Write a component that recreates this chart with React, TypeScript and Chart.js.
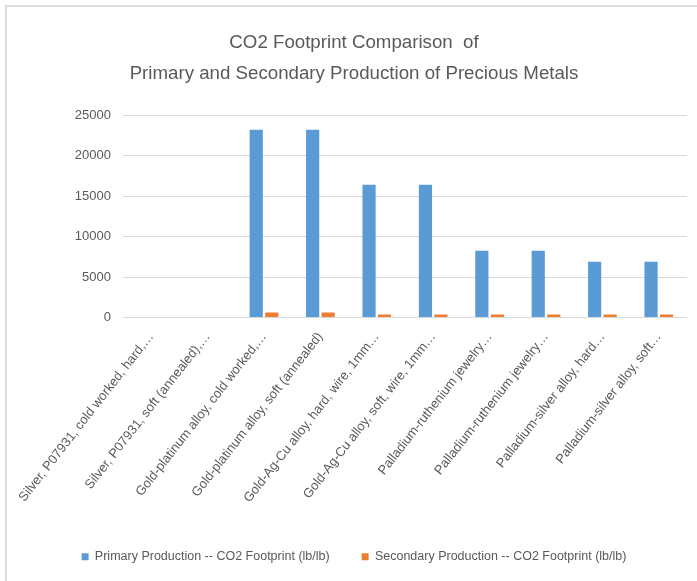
import React, { useEffect, useRef } from "react";
import { Chart, registerables } from "chart.js";

Chart.register(...registerables);

const categories = [
  "Silver, P07931, cold worked, hard,…",
  "Silver, P07931, soft (annealed),…",
  "Gold-platinum alloy, cold worked,…",
  "Gold-platinum alloy, soft (annealed)",
  "Gold-Ag-Cu alloy, hard, wire, 1mm…",
  "Gold-Ag-Cu alloy, soft, wire, 1mm…",
  "Palladium-ruthenium jewelry…",
  "Palladium-ruthenium jewelry…",
  "Palladium-silver alloy, hard…",
  "Palladium-silver alloy, soft…",
];
const primaryValues = [0, 0, 23200, 23200, 16400, 16400, 8250, 8250, 6900, 6900];
const secondaryValues = [0, 0, 620, 620, 380, 380, 370, 370, 370, 370];
const seriesNames = [
  "Primary Production -- CO2 Footprint (lb/lb)",
  "Secondary Production -- CO2 Footprint (lb/lb)",
];
const titleLines = ["CO2 Footprint Comparison  of", "Primary and Secondary Production of Precious Metals"];
const yMax = 25000;
const yStep = 5000;

const FONT = "'Liberation Sans', Arial, sans-serif";

export default function App() {
  const ref = useRef<HTMLCanvasElement | null>(null);
  useEffect(() => {
    if (!ref.current) return;
    const labelsForChart = categories.map((c, i) => c + "\u200b".repeat(i % 2));
    const chart = new Chart(ref.current, {
      type: "bar",
      data: {
        labels: labelsForChart,
        datasets: [
          {
            label: seriesNames[0],
            data: primaryValues,
            backgroundColor: "#5b9bd5",
            categoryPercentage: 0.55,
            barPercentage: 0.85,
          },
          {
            label: seriesNames[1],
            data: secondaryValues,
            backgroundColor: "#ed7d31",
            categoryPercentage: 0.55,
            barPercentage: 0.85,
          },
        ],
      },
      options: {
        animation: false,
        responsive: true,
        maintainAspectRatio: false,
        layout: { padding: { left: 14, right: 10, top: 20, bottom: 8 } },
        plugins: {
          title: {
            display: true,
            text: titleLines,
            color: "#595959",
            font: { family: FONT, size: 18.7, weight: "normal", lineHeight: 1.66 },
            padding: { top: 0, bottom: 26 },
          },
          legend: {
            position: "bottom",
            labels: {
              color: "#595959",
              boxWidth: 7,
              boxHeight: 7,
              padding: 32,
              font: { family: FONT, size: 12.5 },
            },
          },
          tooltip: { enabled: false },
        },
        scales: {
          x: {
            grid: { display: false },
            border: { display: false },
            afterFit: (scale: any) => {
              scale.height = 201;
              scale.paddingLeft = 0;
              scale.paddingRight = 0;
            },
            ticks: {
              color: "#595959",
              minRotation: 52,
              maxRotation: 52,
              autoSkip: false,
              padding: 4,
              font: { family: FONT, size: 13 },
            },
          },
          y: {
            min: 0,
            max: yMax,
            border: { display: false },
            grid: { color: "#d9d9d9", lineWidth: 1, drawTicks: false },
            afterFit: (scale: any) => {
              scale.width = 102;
            },
            ticks: {
              stepSize: yStep,
              color: "#595959",
              padding: 12,
              font: { family: FONT, size: 13 },
              callback: (v: any) => String(v),
            },
          },
        },
      },
    });
    return () => chart.destroy();
  }, []);
  return (
    <div style={{ position: "fixed", left: 0, top: 0, width: 697, height: 581, background: "#fff" }}>
      <div
        style={{
          position: "absolute",
          left: 5,
          top: 5,
          width: 692,
          height: 576,
          borderTop: "2px solid #dcdcdc",
          borderLeft: "2px solid #dcdcdc",
          boxSizing: "border-box",
        }}
      >
        <div style={{ position: "relative", width: 690, height: 574 }}>
          <canvas ref={ref} />
        </div>
      </div>
    </div>
  );
}
